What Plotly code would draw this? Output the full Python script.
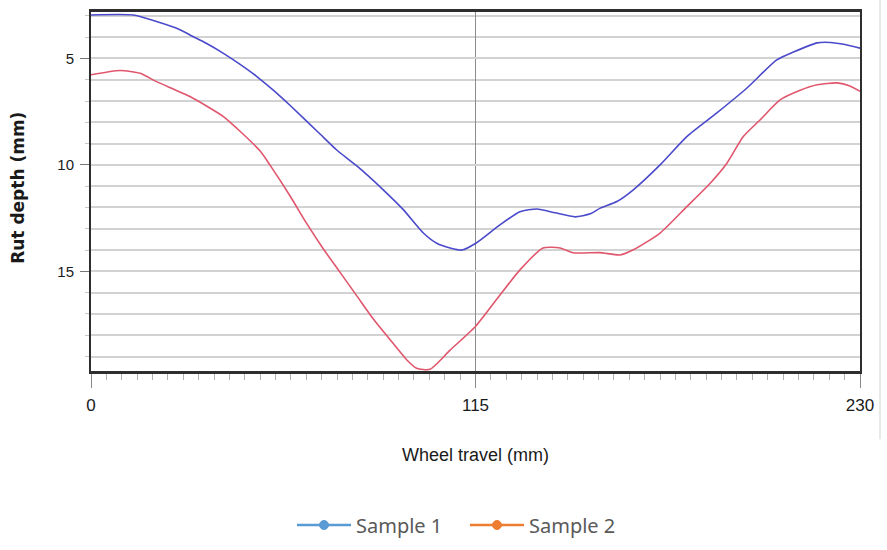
import plotly.graph_objects as go

# Wheel-tracking rut profiles across the wheel path
x_s1 = [0, 12.6, 19.6, 26.6, 29.6, 34.6, 39.6, 44.6, 49.6, 54.6, 59.5, 68.5, 73.5,
        79.5, 87.4, 93.4, 99.4, 103.4, 107.4, 111.0, 115.2, 122.3, 128.3, 133.4,
        138.8, 144.8, 149.3, 152.3, 157.3, 162.2, 170.2, 178.2, 187.1, 196.1, 205.1,
        210.1, 217.2, 221.1, 225.5, 230.0]
rut_s1 = [2.96, 2.96, 3.27, 3.65, 3.9, 4.3, 4.76, 5.28, 5.85, 6.5, 7.2, 8.55, 9.3,
          10.05, 11.17, 12.1, 13.2, 13.68, 13.9, 14.0, 13.67, 12.82, 12.2, 12.07,
          12.25, 12.44, 12.3, 12.03, 11.72, 11.17, 10.0, 8.67, 7.57, 6.4, 5.07,
          4.7, 4.27, 4.25, 4.35, 4.52]

x_s2 = [0, 8.7, 14.7, 19.6, 29.6, 39.6, 43.6, 50.6, 53.5, 59.5, 64.5, 69.5, 74.5,
        79.5, 84.5, 89.4, 94.4, 97.4, 101.4, 107.4, 114.9, 121.4, 128.3, 135.2,
        140.3, 144.2, 152.2, 158.2, 162.2, 170.2, 178.2, 185.2, 190.2, 195.1, 200.1,
        206.1, 212.1, 217.2, 223.2, 227.0, 230.0]
rut_s2 = [5.77, 5.57, 5.7, 6.09, 6.79, 7.73, 8.28, 9.35, 10.0, 11.45, 12.75, 13.95,
          15.05, 16.15, 17.25, 18.2, 19.15, 19.55, 19.6, 18.7, 17.6, 16.3, 14.93,
          13.9, 13.9, 14.13, 14.12, 14.23, 13.99, 13.2, 11.96, 10.86, 9.92, 8.67,
          7.89, 6.95, 6.5, 6.24, 6.15, 6.3, 6.55]

series_names = ["Sample 1", "Sample 2"]
x_ticks = [0, 115, 230]
y_ticks = [5, 10, 15]

line_colors = ["#4a4acb", "#e0566c"]
legend_colors = ["#5b9bd5", "#ed7d31"]

narrow = "Liberation Sans Narrow, Liberation Sans, Arial, sans-serif"

# plot-area geometry in pixels, used to place the legend below the axes
W, H = 887, 550
ML, MR, MT, MB = 91, 27, 12, 179
PW, PH = W - ML - MR, H - MT - MB


def px_to_paper(px, py):
    return (px - ML) / PW, (H - MB - py) / PH


fig = go.Figure()

for name, xs, ys, col in [(series_names[0], x_s1, rut_s1, line_colors[0]),
                          (series_names[1], x_s2, rut_s2, line_colors[1])]:
    fig.add_trace(go.Scatter(
        x=xs, y=ys, mode="lines", name=name,
        line=dict(color=col, width=1.6, shape="spline", smoothing=0.6),
        showlegend=False,
    ))

# darker reference line at 10 mm
fig.add_shape(type="line", xref="paper", x0=0, x1=1, yref="y", y0=10, y1=10,
              line=dict(color="#9a9a9a", width=1.5), layer="below")
# thin frame line at the right edge of the page
fig.add_shape(type="line", xref="paper", x0=1.026, x1=1.026, yref="paper",
              y0=-0.19, y1=1.04, line=dict(color="#e2e2e2", width=1.5))

# legend row: line key with a dot, then the series name
legend_y = 525
for name, col, key_left in zip(series_names, legend_colors, [297, 470]):
    x0, yy = px_to_paper(key_left, legend_y)
    x1, _ = px_to_paper(key_left + 54, legend_y)
    xm, _ = px_to_paper(key_left + 27, legend_y)
    xt, _ = px_to_paper(key_left + 57, legend_y)
    fig.add_shape(type="line", xref="paper", yref="paper", x0=x0, x1=x1, y0=yy, y1=yy,
                  line=dict(color=col, width=2.5))
    fig.add_shape(type="circle", xref="paper", yref="paper",
                  xsizemode="pixel", ysizemode="pixel", xanchor=xm, yanchor=yy,
                  x0=-4.5, x1=4.5, y0=-4.5, y1=4.5,
                  fillcolor=col, line=dict(color=col, width=1))
    fig.add_annotation(text=name, xref="paper", yref="paper", x=xt, y=yy,
                       xanchor="left", yanchor="middle", showarrow=False,
                       font=dict(family="Noto Sans, Open Sans, sans-serif", size=20,
                                 color="#595959"))

# axis titles
fig.add_annotation(text="<b>Rut depth (mm)</b>", textangle=-90,
                   xref="paper", yref="paper", x=-0.095, y=0.51,
                   xanchor="center", yanchor="middle", showarrow=False,
                   font=dict(family="DejaVu Sans, sans-serif", size=17, color="#1a1a1a"))
fig.add_annotation(text="Wheel travel (mm)",
                   xref="paper", yref="paper", x=0.5, y=-0.234,
                   xanchor="center", yanchor="middle", showarrow=False,
                   font=dict(family=narrow, size=18, color="#1a1a1a"))

fig.update_layout(
    width=W, height=H,
    margin=dict(l=ML, r=MR, t=MT, b=MB),
    paper_bgcolor="white", plot_bgcolor="white",
    showlegend=False,
    xaxis=dict(
        range=[0, 230], tickvals=x_ticks, ticktext=[str(v) for v in x_ticks],
        automargin=False,
        showgrid=True, gridcolor="#8c8c8c", gridwidth=1,
        showline=True, linecolor="#2e2e2e", linewidth=3, mirror=True,
        ticks="outside", ticklen=14, tickwidth=1, tickcolor="#888888",
        ticklabelstandoff=3,
        minor=dict(dtick=4.6, tick0=0, ticks="outside", ticklen=6,
                   tickcolor="#b0b0b0", tickwidth=1, showgrid=False),
        tickfont=dict(family=narrow, size=17, color="#1a1a1a"),
        zeroline=False,
    ),
    yaxis=dict(
        range=[19.68, 2.82], tickvals=y_ticks, ticktext=[str(v) for v in y_ticks],
        automargin=False,
        showgrid=True, gridcolor="#d2d2d2", gridwidth=1.6,
        showline=True, linecolor="#2e2e2e", linewidth=2, mirror=True,
        ticks="outside", ticklen=9, tickwidth=1, tickcolor="#777777",
        ticklabelstandoff=3,
        minor=dict(dtick=1, tick0=0, ticks="outside", ticklen=4, tickcolor="#c8c8c8",
                   showgrid=True, gridcolor="#d2d2d2", gridwidth=1.6),
        tickfont=dict(family=narrow, size=15, color="#1a1a1a"),
        zeroline=False,
    ),
)

fig.write_html("out.html")
